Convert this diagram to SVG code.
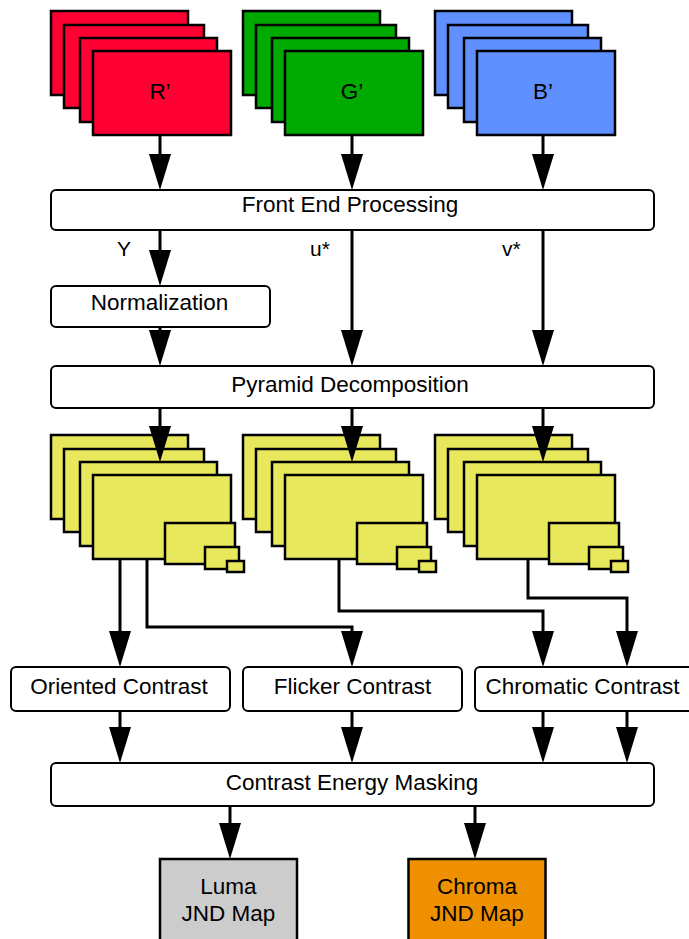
<svg xmlns="http://www.w3.org/2000/svg" xmlns:xlink="http://www.w3.org/1999/xlink" width="689" height="939" viewBox="0 0 689 939">
<style>
.fr{stroke:#000;stroke-width:2.5}
.box{fill:#fff;stroke:#000;stroke-width:2}
.map{stroke:#000;stroke-width:2.5}
.t{font-family:"Liberation Sans",Arial,Helvetica,sans-serif;font-size:22.5px;fill:#000;text-anchor:middle}
.lbl{font-family:"Liberation Sans",Arial,Helvetica,sans-serif;font-size:21px;fill:#000}
.c{fill:none;stroke:#000;stroke-width:3;stroke-linejoin:miter}
.a{marker-end:url(#ah)}
</style>
<defs>
<marker id="ah" markerUnits="userSpaceOnUse" markerWidth="36" markerHeight="22" viewBox="0 0 36 22" refX="16" refY="11" orient="auto">
<path d="M0,0 L36,11 L0,22 z" fill="#000"/>
</marker>
<g id="frames">
<rect class="fr" x="0" y="0" width="137" height="84"/>
<rect class="fr" x="13" y="14" width="140" height="83"/>
<rect class="fr" x="29" y="27" width="137" height="84"/>
<rect class="fr" x="42" y="40" width="138" height="84"/>
</g>
<g id="pyr">
<use xlink:href="#frames"/>
<rect class="fr" x="114" y="88" width="70" height="41"/>
<rect class="fr" x="154" y="112" width="34" height="22"/>
<rect class="fr" x="176" y="126" width="17" height="11"/>
</g>
</defs>
<rect width="689" height="939" fill="#fff"/>

<g id="red-frames">
<use xlink:href="#frames" transform="translate(51,11)" fill="#FF0033"/>
<text class="t" x="160" y="99">R’</text>
</g>
<g id="green-frames">
<use xlink:href="#frames" transform="translate(243,11)" fill="#00AA00"/>
<text class="t" x="352" y="99">G’</text>
</g>
<g id="blue-frames">
<use xlink:href="#frames" transform="translate(435,11)" fill="#6090FF"/>
<text class="t" x="543" y="99">B’</text>
</g>

<g id="front-end">
<rect class="box" x="51" y="190" width="603" height="40" rx="5"/>
<text class="t" x="350" y="212">Front End Processing</text>
</g>
<g id="normalization">
<rect class="box" x="51" y="286" width="219" height="41" rx="5"/>
<text class="t" x="159.5" y="310">Normalization</text>
</g>
<g id="pyramid">
<rect class="box" x="51" y="366" width="603" height="42" rx="5"/>
<text class="t" x="350" y="392">Pyramid Decomposition</text>
</g>

<g id="y-pyramid">
<use xlink:href="#pyr" transform="translate(51,435)" fill="#E8E85C"/>
</g>
<g id="u-pyramid">
<use xlink:href="#pyr" transform="translate(243,435)" fill="#E8E85C"/>
</g>
<g id="v-pyramid">
<use xlink:href="#pyr" transform="translate(435,435)" fill="#E8E85C"/>
</g>

<g id="oriented">
<rect class="box" x="11" y="667" width="219" height="44" rx="5"/>
<text class="t" x="119" y="694">Oriented Contrast</text>
</g>
<g id="flicker">
<rect class="box" x="243" y="667" width="219" height="44" rx="5"/>
<text class="t" x="352.5" y="694">Flicker Contrast</text>
</g>
<g id="chromatic">
<rect class="box" x="475" y="667" width="219" height="44" rx="5"/>
<text class="t" x="582.5" y="694">Chromatic Contrast</text>
</g>
<g id="masking">
<rect class="box" x="51" y="763" width="603" height="43" rx="5"/>
<text class="t" x="352" y="790">Contrast Energy Masking</text>
</g>
<g id="luma">
<rect class="map" x="160" y="859" width="137" height="95" fill="#CCCCCC"/>
<text class="t" x="228.5" y="894">Luma</text>
<text class="t" x="228.5" y="921">JND Map</text>
</g>
<g id="chroma">
<rect class="map" x="408.5" y="859" width="137" height="95" fill="#EF9000"/>
<text class="t" x="477" y="894">Chroma</text>
<text class="t" x="477" y="921">JND Map</text>
</g>

<g id="connectors">
<path class="c a" d="M160,135 V170"/>
<path class="c a" d="M352,135 V170"/>
<path class="c a" d="M543,135 V170"/>
<path class="c a" d="M160,230 V266"/>
<path class="c a" d="M160,327 V346"/>
<path class="c a" d="M352,230 V346"/>
<path class="c a" d="M543,230 V346"/>
<path class="c a" d="M160,408 V442"/>
<path class="c a" d="M352,408 V442"/>
<path class="c a" d="M543,408 V442"/>
<path class="c a" d="M120,558 V647"/>
<path class="c a" d="M147,558 V627 H352 V647"/>
<path class="c a" d="M339,558 V611 H543 V647"/>
<path class="c a" d="M528,558 V598 H627 V647"/>
<path class="c a" d="M120,711 V743"/>
<path class="c a" d="M352,711 V743"/>
<path class="c a" d="M543,711 V743"/>
<path class="c a" d="M627,711 V743"/>
<path class="c a" d="M230,806 V839"/>
<path class="c a" d="M475,806 V839"/>
<text class="lbl" x="117" y="256">Y</text>
<text class="lbl" x="310" y="256">u*</text>
<text class="lbl" x="502" y="256">v*</text>
</g>
</svg>
